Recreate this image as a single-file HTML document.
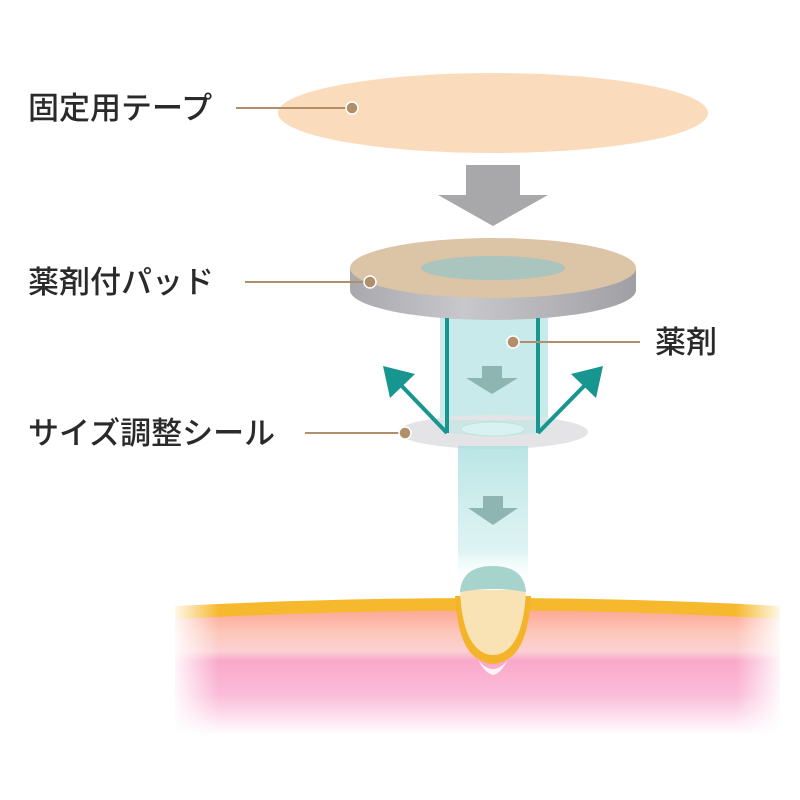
<!DOCTYPE html>
<html><head><meta charset="utf-8"><style>
html,body{margin:0;padding:0;background:#fff;width:800px;height:800px;overflow:hidden}
text{font-family:"Liberation Sans","Noto Sans CJK JP",sans-serif;font-size:31px;fill:#2a2a2a;font-weight:500}
</style></head><body>
<svg width="800" height="800" viewBox="0 0 800 800" xmlns="http://www.w3.org/2000/svg">
<defs>
<linearGradient id="side" x1="0" x2="1"><stop offset="0" stop-color="#a9a9ad"/><stop offset="0.4" stop-color="#c8c8cc"/><stop offset="1" stop-color="#a0a0a4"/></linearGradient>
<linearGradient id="col2" x1="0" y1="0" x2="0" y2="1"><stop offset="0" stop-color="#a9dede" stop-opacity="0.8"/><stop offset="0.75" stop-color="#c9ecec" stop-opacity="0.6"/><stop offset="1" stop-color="#ffffff" stop-opacity="0"/></linearGradient>
<linearGradient id="pink" gradientUnits="userSpaceOnUse" x1="0" y1="600" x2="0" y2="735"><stop offset="0" stop-color="#ff9a85"/><stop offset="0.25" stop-color="#fcc8bb"/><stop offset="0.38" stop-color="#fbd0d4"/><stop offset="0.45" stop-color="#f9a8c9"/><stop offset="0.7" stop-color="#fbbcd9"/><stop offset="1" stop-color="#ffffff"/></linearGradient>
<linearGradient id="fadeH" x1="0" x2="1"><stop offset="0" stop-color="#fff" stop-opacity="1"/><stop offset="0.08" stop-color="#fff" stop-opacity="0"/><stop offset="0.92" stop-color="#fff" stop-opacity="0"/><stop offset="1" stop-color="#fff" stop-opacity="1"/></linearGradient>
</defs>

<ellipse cx="493" cy="113" rx="215" ry="40" fill="#fadcbd"/>
<line x1="236" y1="108" x2="352" y2="108" stroke="#b08f6a" stroke-width="2"/>
<circle cx="352" cy="108" r="6" fill="#b08f6a" stroke="#fff" stroke-width="1.5"/>
<text x="28" y="119">固定用テープ</text>

<polygon points="466,165 520,165 520,195 548,195 493,226 438,195 466,195" fill="#a8a8aa"/>

<rect x="440" y="300" width="108" height="135" fill="#bfe6e6" opacity="0.85"/>
<polygon points="482,366 502,366 502,378 518,378 492,394 466,378 482,378" fill="#8fb5b3"/>

<path d="M350,268 L350,290 A143,30 0 0 0 636,290 L636,268 Z" fill="url(#side)"/>
<ellipse cx="493" cy="268" rx="143" ry="30" fill="#dcc4a6"/>
<ellipse cx="493" cy="268" rx="72" ry="12" fill="#a9c5be"/>
<line x1="245" y1="282" x2="370" y2="282" stroke="#b08f6a" stroke-width="2"/>
<circle cx="370" cy="282" r="6" fill="#b08f6a" stroke="#fff" stroke-width="1.5"/>
<text x="28" y="293">薬剤付パッド</text>

<ellipse cx="493" cy="432" rx="95" ry="17" fill="#e4e4e6"/>
<path d="M440,420 L548,420 L548,428 A54,8 0 0 1 440,428 Z" fill="#bfe6e6" opacity="0.6"/>
<ellipse cx="493" cy="429" rx="32" ry="7" fill="#d8f2f2" stroke="#bfe0e0"/>
<line x1="305" y1="433" x2="405" y2="433" stroke="#b08f6a" stroke-width="2"/>
<circle cx="405" cy="433" r="6" fill="#b08f6a" stroke="#fff" stroke-width="1.5"/>
<text x="28" y="444">サイズ調整シール</text>

<g stroke="#17958f" stroke-width="4" fill="none">
<line x1="447" y1="318" x2="447" y2="433"/>
<line x1="538" y1="318" x2="538" y2="433"/>
<line x1="447" y1="433" x2="397" y2="381"/>
<line x1="538" y1="433" x2="589" y2="381"/>
</g>
<polygon points="383,366 415,374 390,398" fill="#17958f"/>
<polygon points="603,366 571,374 596,398" fill="#17958f"/>

<line x1="513" y1="342" x2="640" y2="342" stroke="#b08f6a" stroke-width="2"/>
<circle cx="513" cy="342" r="6" fill="#b08f6a" stroke="#fff" stroke-width="1.5"/>
<text x="655" y="353">薬剤</text>

<rect x="458" y="446" width="70" height="140" fill="url(#col2)"/>
<polygon points="483,496 503,496 503,508 518,508 493,525 468,508 483,508" fill="#8fb5b3"/>

<path d="M175,612 Q493,590 780,612 L780,740 L175,740 Z" fill="url(#pink)"/>
<path d="M175,606 Q493,590 780,606 L780,619 Q493,602 175,619 Z" fill="#f6b92e"/>
<path d="M455,596 Q458,650 480,660 Q493,668 506,660 Q528,650 531,596 Z" fill="#f4b42a"/>
<path d="M478,660 Q493,678 508,660 Q500,674 493,675 Q486,674 478,660Z" fill="#fff3f5"/>
<path d="M460,590 Q462,640 482,652 Q493,658 504,652 Q524,640 526,590 Z" fill="#f9e3b4"/>
<path d="M460,592 Q462,566 493,566 Q524,566 526,592 Q493,586 460,592Z" fill="#a6d3cb"/>
<rect x="170" y="590" width="615" height="210" fill="url(#fadeH)"/>
</svg>
</body></html>
